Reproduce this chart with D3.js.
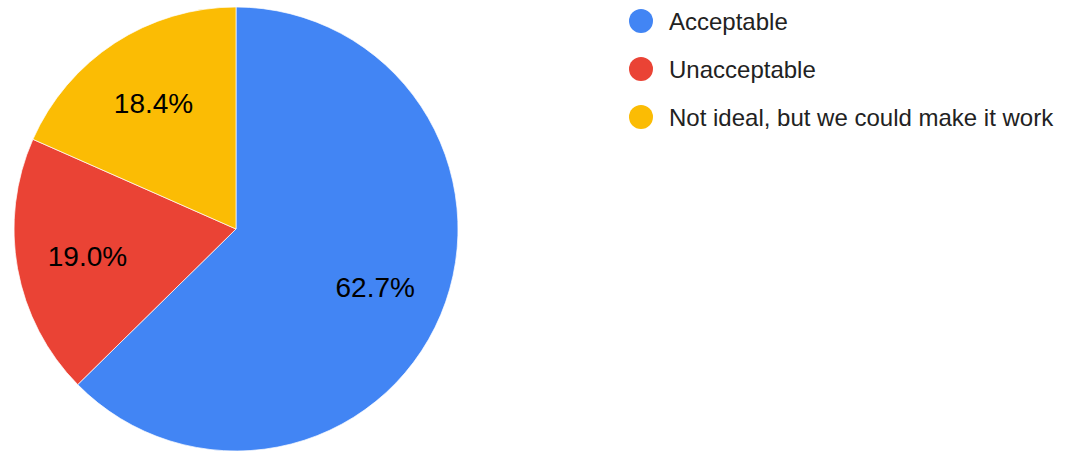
<!DOCTYPE html>
<html>
<head>
<meta charset="utf-8">
<script src="https://cdn.jsdelivr.net/npm/d3@7"></script>
<style>
  body{margin:0;background:#fff;}
  svg{display:block;font-family:"Liberation Sans",Arial,sans-serif;}
</style>
</head>
<body>
<svg></svg>
<script>
// answers and their share of responses (%)
var categories = ["Acceptable","Unacceptable","Not ideal, but we could make it work"];
var shares = [62.7, 19.0, 18.4];
var colors = ["#4285f4","#ea4335","#fbbc04"];

var width = 1067, height = 452;
var svg = d3.select("svg")
            .attr("width",width)
            .attr("height",height);

var cx = 236, cy = 229, radius = 222;

var data = categories.map(function(c,i){ return {name:c, value:shares[i], color:colors[i]}; });

var pie = d3.pie()
            .sort(null)
            .value(function(d){ return d.value; });
var arc = d3.arc().innerRadius(0).outerRadius(radius);
var labelArc = d3.arc().innerRadius(151).outerRadius(151);

var g = svg.append("g")
           .attr("transform","translate("+cx+","+cy+")");

var slices = g.selectAll("g.slice")
              .data(pie(data))
              .enter()
              .append("g")
              .classed("slice",true);

slices.append("path")
      .attr("d",arc)
      .attr("fill",function(d){ return d.data.color; })
      .attr("stroke","#fff")
      .attr("stroke-width",0.7);

slices.append("text")
      .attr("transform",function(d){ return "translate("+labelArc.centroid(d)+")"; })
      .attr("text-anchor","middle")
      .attr("dy","0.36em")
      .attr("font-size",28)
      .attr("fill","#000")
      .text(function(d){ return d.data.value.toFixed(1)+"%"; });

// legend
var legend = svg.append("g")
                .attr("transform","translate(641,21)");

var rows = legend.selectAll("g.row")
                 .data(data)
                 .enter()
                 .append("g")
                 .classed("row",true)
                 .attr("transform",function(d,i){ return "translate(0,"+(i*48)+")"; });

rows.append("circle")
    .attr("r",12)
    .attr("fill",function(d){ return d.color; });

rows.append("text")
    .attr("x",28)
    .attr("dy","0.36em")
    .attr("font-size",24)
    .attr("fill","#222")
    .text(function(d){ return d.name; });
</script>
</body>
</html>
